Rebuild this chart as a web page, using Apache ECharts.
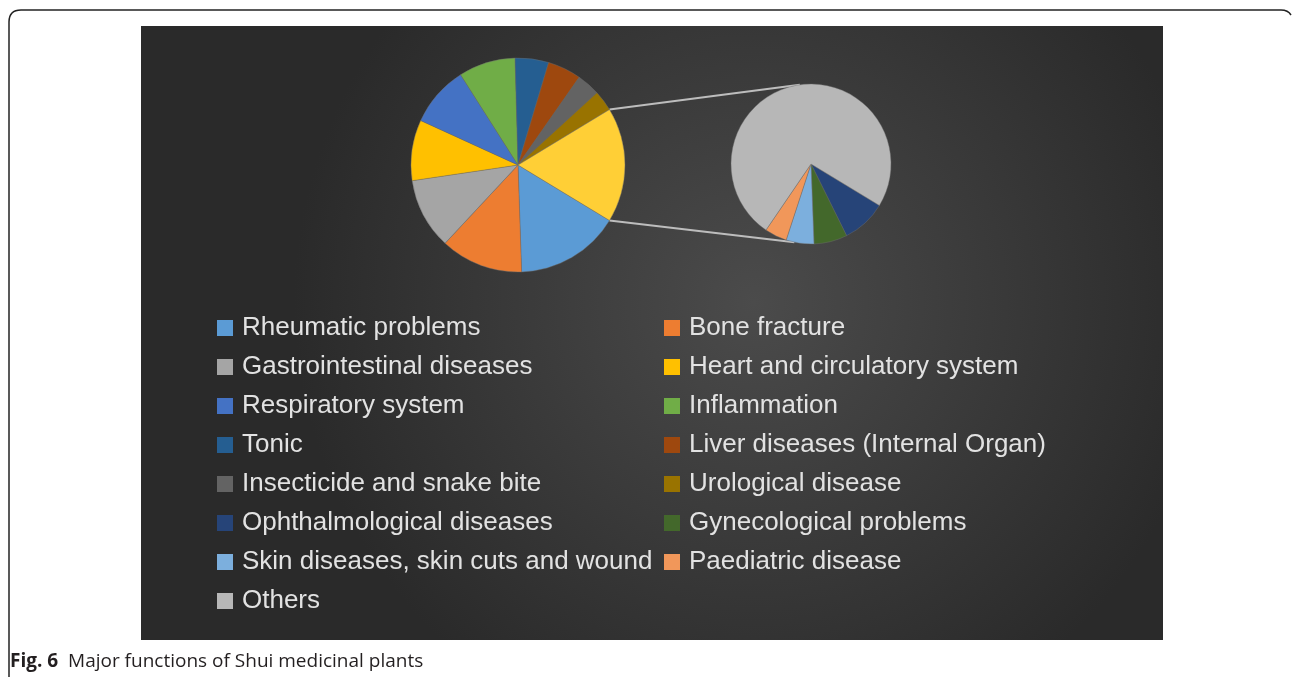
<!DOCTYPE html>
<html>
<head>
<meta charset="utf-8">
<script src="https://cdn.jsdelivr.net/npm/echarts@6/dist/echarts.min.js"></script>
<style>
  html, body { margin: 0; padding: 0; background: #fff; }
  #chart { width: 1292px; height: 677px; }
</style>
</head>
<body>
<div id="chart"></div>
<script>
// main pie categories (clockwise order)
const mainNames = [
  'Rheumatic problems', 'Bone fracture', 'Gastrointestinal diseases',
  'Heart and circulatory system', 'Respiratory system', 'Inflammation',
  'Tonic', 'Liver diseases (Internal Organ)', 'Insecticide and snake bite',
  'Urological disease'
]
const mainValues = [81, 64, 55, 47, 47, 44, 26, 26, 18, 16]
const mainColors = [
  '#5B9BD5', '#ED7D31', '#A5A5A5', '#FFC000', '#4472C4', '#70AD47',
  '#255E91', '#9E480E', '#636363', '#997300'
]

// secondary pie (split out of the "Other" slice)
const subNames = [
  'Ophthalmological diseases', 'Gynecological problems',
  'Skin diseases, skin cuts and wound', 'Paediatric disease', 'Others'
]
const subValues = [8, 6, 5, 4, 66]
const subColors = ['#264478', '#43682B', '#7CAFDD', '#F1975A', '#B7B7B7']

const otherColor = '#FFCF36'

// legend columns (row-major reading order of the original)
const legendLeft = [
  'Rheumatic problems', 'Gastrointestinal diseases', 'Respiratory system', 'Tonic',
  'Insecticide and snake bite', 'Ophthalmological diseases',
  'Skin diseases, skin cuts and wound', 'Others'
]
const legendRight = [
  'Bone fracture', 'Heart and circulatory system', 'Inflammation',
  'Liver diseases (Internal Organ)', 'Urological disease', 'Gynecological problems',
  'Paediatric disease'
]

const mainCenter = [518, 165]
const mainR = 107
const subCenter = [811, 164]
const subR = 80

const chart = echarts.init(document.getElementById('chart'))

const otherSum = subValues.reduce((a, b) => a + b, 0)
const total = mainValues.reduce((a, b) => a + b, 0) + otherSum
const otherDeg = otherSum / total * 360
const startAngle = -otherDeg / 2 // centre the "Other" slice on the right

// connector lines from the "Other" slice edges to the secondary pie
const rad = Math.PI / 180
const a = otherDeg / 2 * rad
const p1 = [mainCenter[0] + mainR * Math.cos(a), mainCenter[1] - mainR * Math.sin(a)]
const p2 = [mainCenter[0] + mainR * Math.cos(a), mainCenter[1] + mainR * Math.sin(a)]
const q1 = [subCenter[0] + subR * Math.cos(98 * rad), subCenter[1] - subR * Math.sin(98 * rad)]
const q2 = [subCenter[0] + subR * Math.cos(102 * rad), subCenter[1] + subR * Math.sin(102 * rad)]

const sliceBorder = { borderColor: 'rgba(110,110,110,0.7)', borderWidth: 0.6 }

const mainData = mainNames.map((n, i) => ({
  name: n, value: mainValues[i], itemStyle: { color: mainColors[i] }
}))
mainData.push({ name: 'Other', value: otherSum, itemStyle: { color: otherColor } })

const subData = subNames.map((n, i) => ({
  name: n, value: subValues[i], itemStyle: { color: subColors[i] }
}))

const legendBase = {
  orient: 'vertical',
  icon: 'rect',
  itemWidth: 16,
  itemHeight: 16,
  itemGap: 13,
  padding: 0,
  top: 315,
  selectedMode: false,
  itemStyle: { borderWidth: 0 },
  textStyle: {
    color: '#e2e2e2',
    fontFamily: "'Liberation Sans', Arial, Helvetica, sans-serif",
    fontSize: 26,
    lineHeight: 26,
    padding: [0, 0, 0, 4]
  }
}

const frameStyle = { fill: 'none', stroke: '#222', lineWidth: 1.5 }

const option = {
  backgroundColor: '#ffffff',
  animation: false,
  graphic: [
    {
      type: 'rect', z: -10, silent: true,
      shape: { x: 141, y: 26, width: 1022, height: 614 },
      style: {
        fill: {
          type: 'radial', x: 0.6, y: 0.45, r: 0.75,
          colorStops: [
            { offset: 0, color: '#4b4b4b' },
            { offset: 1, color: '#2a2a2a' }
          ]
        }
      }
    },
    // outer frame of the figure
    {
      type: 'polyline', z: -10, silent: true,
      shape: { points: [[9, 677], [9, 22]] }, style: frameStyle
    },
    {
      type: 'bezierCurve', z: -10, silent: true,
      shape: { x1: 9, y1: 22, cpx1: 9, cpy1: 10, x2: 21, y2: 10 }, style: frameStyle
    },
    {
      type: 'polyline', z: -10, silent: true,
      shape: { points: [[21, 10], [1281, 10]] }, style: frameStyle
    },
    {
      type: 'bezierCurve', z: -10, silent: true,
      shape: { x1: 1281, y1: 10, cpx1: 1288, cpy1: 10, x2: 1291, y2: 15 }, style: frameStyle
    },
    {
      type: 'polyline', z: 1, silent: true,
      shape: { points: [p1, q1] },
      style: { stroke: '#bdbdbd', lineWidth: 2 }
    },
    {
      type: 'polyline', z: 1, silent: true,
      shape: { points: [p2, q2] },
      style: { stroke: '#bdbdbd', lineWidth: 2 }
    },
    {
      type: 'text', z: 5, silent: true,
      x: 10, y: 662,
      style: {
        text: '{b|Fig. 6}  Major functions of Shui medicinal plants',
        verticalAlign: 'middle',
        fill: '#231f20',
        font: "19px 'Open Sans', sans-serif",
        rich: {
          b: { fontWeight: 'bold', fontSize: 19, fontFamily: 'Open Sans', fill: '#231f20' }
        }
      }
    }
  ],
  legend: [
    Object.assign({}, legendBase, { left: 217, data: legendLeft }),
    Object.assign({}, legendBase, { left: 664, data: legendRight })
  ],
  series: [
    {
      type: 'pie',
      center: mainCenter,
      radius: mainR,
      startAngle: startAngle,
      clockwise: true,
      label: { show: false },
      labelLine: { show: false },
      emphasis: { disabled: true },
      itemStyle: sliceBorder,
      data: mainData
    },
    {
      type: 'pie',
      center: subCenter,
      radius: subR,
      startAngle: startAngle,
      clockwise: true,
      label: { show: false },
      labelLine: { show: false },
      emphasis: { disabled: true },
      itemStyle: sliceBorder,
      data: subData
    }
  ]
}

chart.setOption(option)
</script>
</body>
</html>
